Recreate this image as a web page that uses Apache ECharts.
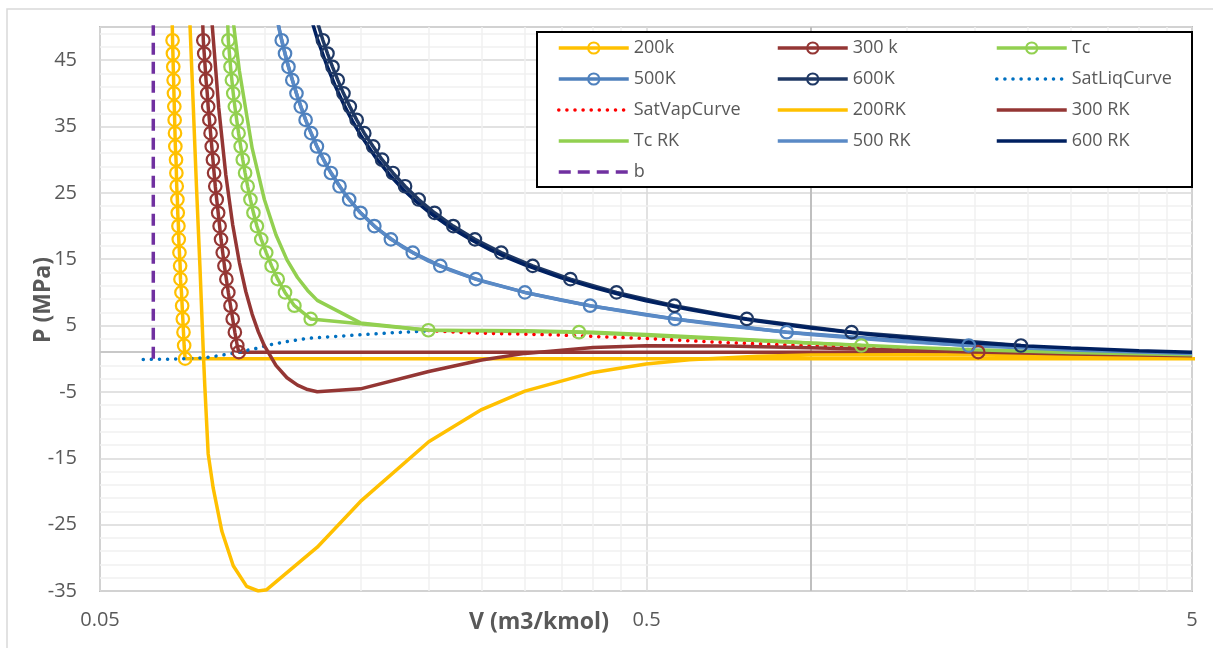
<!DOCTYPE html>
<html>
<head>
<meta charset="utf-8">
<script src="https://cdn.jsdelivr.net/npm/echarts@6.0.0/dist/echarts.min.js"></script>
<style>
  html, body { margin: 0; padding: 0; background: #ffffff; }
  #chart { width: 1213px; height: 648px; }
</style>
</head>
<body>
<div id="chart"></div>
<script>
// Propane P-V isotherms: measured data (markers) vs Redlich-Kwong curves.
// Each point is [V (m3/kmol), P (MPa)].

const iso200K = [
  [0.0676, 56], [0.0679, 48], [0.0680, 46], [0.0681, 44], [0.0682, 42], [0.0683, 40],
  [0.0684, 38], [0.0685, 36], [0.0686, 34], [0.0687, 32], [0.0689, 30], [0.0690, 28],
  [0.0691, 26], [0.0693, 24], [0.0694, 22], [0.0696, 20], [0.0697, 18], [0.0699, 16],
  [0.0701, 14], [0.0702, 12], [0.0705, 10], [0.0707, 8], [0.0709, 6], [0.0711, 4],
  [0.0713, 2], [0.0716, 0.02], [80, 0.02]
];

const iso300K = [
  [0.0767, 56], [0.0773, 48], [0.0776, 46], [0.0779, 44], [0.0782, 42], [0.0786, 40],
  [0.0789, 38], [0.0793, 36], [0.0797, 34], [0.0801, 32], [0.0805, 30], [0.0809, 28],
  [0.0813, 26], [0.0818, 24], [0.0823, 22], [0.0828, 20], [0.0833, 18], [0.0839, 16],
  [0.0845, 14], [0.0852, 12], [0.0859, 10], [0.0867, 8], [0.0875, 6], [0.0883, 4],
  [0.0892, 2], [0.0898, 1.0], [2.03, 1.0]
];

const isoTc = [
  [0.0852, 56], [0.0859, 48], [0.0863, 46], [0.0867, 44], [0.0872, 42], [0.0877, 40],
  [0.0883, 38], [0.0890, 36], [0.0897, 34], [0.0905, 32], [0.0913, 30], [0.0922, 28],
  [0.0932, 26], [0.0943, 24], [0.0955, 22], [0.0969, 20], [0.0987, 18], [0.1008, 16],
  [0.1031, 14], [0.1058, 12], [0.1091, 10], [0.1135, 8], [0.1216, 6], [0.1997, 4.3],
  [0.377, 4.0], [1.24, 2.0]
];

const iso500K = [
  [0.1026, 56], [0.1076, 48], [0.1091, 46], [0.1107, 44], [0.1125, 42], [0.1145, 40],
  [0.1166, 38], [0.1190, 36], [0.1218, 34], [0.1248, 32], [0.1284, 30], [0.1324, 28],
  [0.1373, 26], [0.1430, 24], [0.1500, 22], [0.1590, 20], [0.1705, 18], [0.1870, 16],
  [0.2100, 14], [0.2440, 12], [0.3000, 10], [0.3950, 8], [0.5650, 6], [0.9050, 4],
  [1.95, 2]
];

const iso600K = [
  [0.1197, 56], [0.1280, 48], [0.1305, 46], [0.1333, 44], [0.1363, 42], [0.1396, 40],
  [0.1434, 38], [0.1476, 36], [0.1524, 34], [0.1582, 32], [0.1643, 30], [0.1720, 28],
  [0.1810, 26], [0.1917, 24], [0.2050, 22], [0.2218, 20], [0.2430, 18], [0.2715, 16],
  [0.3100, 14], [0.3635, 12], [0.4415, 10], [0.5635, 8], [0.7650, 6], [1.19, 4],
  [2.43, 2]
];

const satLiq = [
  [0.0600, -0.1], [0.0650, -0.08], [0.0716, 0.0], [0.0778, 0.15], [0.0823, 0.45],
  [0.0875, 0.8], [0.0920, 1.2], [0.0960, 1.5], [0.1016, 2.05], [0.1100, 2.6],
  [0.1210, 3.1], [0.1430, 3.5], [0.1700, 3.9], [0.1900, 4.1], [0.2000, 4.25]
];

const satVap = [
  [0.2000, 4.25], [0.231, 3.95], [0.267, 3.8], [0.340, 3.6], [0.508, 3.03],
  [0.674, 2.5], [0.890, 2.1], [1.15, 1.8], [1.5, 1.4], [2.03, 1.0], [3.6, 0.6], [6.0, 0.35]
];

const rk200 = [
  [0.0727, 56], [0.0731, 50], [0.0741, 38], [0.0751, 26], [0.0762, 14], [0.0773, 1],
  [0.0778, -4.2], [0.0789, -14.3], [0.0806, -19.5], [0.0836, -26], [0.0877, -31.2],
  [0.0928, -34.3], [0.0975, -35.0], [0.1010, -34.8], [0.125, -28.4], [0.15, -21.5],
  [0.2, -12.5], [0.25, -7.66], [0.3, -4.88], [0.4, -2.06], [0.5, -0.8], [0.6, -0.16],
  [0.8, 0.38], [1, 0.56], [1.5, 0.6], [2, 0.55], [3, 0.43], [5, 0.29]
];

const rk300 = [
  [0.079, 58.7], [0.08, 51.7], [0.0825, 37.8], [0.085, 27.7], [0.0875, 20.2], [0.09, 14.5],
  [0.0925, 10.1], [0.095, 6.7], [0.0975, 4.06], [0.1, 1.97], [0.105, -1.0], [0.11, -2.86],
  [0.115, -3.98], [0.12, -4.64], [0.125, -4.97], [0.15, -4.53], [0.2, -1.93], [0.25, -0.19],
  [0.3, 0.81], [0.4, 1.69], [0.5, 1.95], [0.7, 1.94], [1, 1.67], [1.5, 1.29], [2, 1.03],
  [3, 0.73], [5, 0.46]
];

const rkTc = [
  [0.086, 57.6], [0.088, 49.8], [0.09, 43.4], [0.095, 31.7], [0.1, 24.0], [0.105, 18.7],
  [0.11, 14.9], [0.115, 12.25], [0.12, 10.3], [0.125, 8.8], [0.15, 5.41], [0.2, 4.29],
  [0.25, 4.25], [0.3, 4.22], [0.4, 3.98], [0.5, 3.65], [0.7, 3.04], [1, 2.39], [1.5, 1.73],
  [2, 1.36], [3, 0.94], [5, 0.59]
];

const rk500 = [
  [0.102, 57.1], [0.104, 53.5], [0.107, 48.8], [0.11, 44.8], [0.115, 39.45], [0.12, 35.2],
  [0.125, 31.9], [0.13, 29.1], [0.14, 25.0], [0.15, 22.0], [0.16, 19.77], [0.18, 16.72],
  [0.2, 14.7], [0.22, 13.28], [0.25, 11.7], [0.3, 10.0], [0.35, 8.81], [0.4, 7.9],
  [0.5, 6.6], [0.6, 5.68], [0.7, 4.99], [0.9, 4.02], [1, 3.67], [1.4, 2.71], [2, 1.95],
  [3, 1.33], [4, 1.01], [5, 0.81]
];

const rk600 = [
  [0.117, 56.4], [0.12, 53.0], [0.125, 48.25], [0.13, 44.31], [0.135, 41.02], [0.14, 38.22],
  [0.145, 35.82], [0.15, 33.74], [0.16, 30.31], [0.17, 27.61], [0.18, 25.44], [0.19, 23.64],
  [0.2, 22.12], [0.22, 19.7], [0.24, 17.86], [0.26, 16.38], [0.28, 15.18], [0.3, 14.16],
  [0.35, 12.19], [0.4, 10.76], [0.45, 9.64], [0.5, 8.75], [0.6, 7.41], [0.7, 6.43],
  [0.8, 5.68], [1, 4.62], [1.3, 3.61], [1.6, 2.96], [2, 2.39], [2.5, 1.93], [3, 1.62],
  [4, 1.22], [5, 0.98]
];

// co-volume b of the RK equation
const bLine = [[0.0626, 0], [0.0626, 60]];

// axis ticks
const xTickLabels = ['0.05', '0.5', '5'];
const xMinorTicks = [0.1, 0.15, 0.2, 0.25, 0.3, 0.35, 0.4, 0.45, 1, 1.5, 2, 2.5, 3, 3.5, 4, 4.5];
const yMinorTicks = [-33, -31, -29, -27, -23, -21, -19, -17, -13, -11, -9, -7, -3, -1, 1, 3,
  7, 9, 11, 13, 17, 19, 21, 23, 27, 29, 31, 33, 37, 39, 41, 43, 47, 49];

const FONT = 'Open Sans';
const TEXT = '#595959';

const C = {
  gold: '#FFC000', brown: '#943634', green: '#92D050', blue: '#4F81BD',
  slate: '#1F3864', navy: '#002060', satLiq: '#0070C0', satVap: '#FF0000',
  blueRK: '#5A8AC6', purple: '#7030A0'
};

function markerSeries(name, data, color) {
  return {
    name, type: 'line', data, symbol: 'circle', symbolSize: 12.5, showSymbol: true,
    lineStyle: { color, width: 3.5 },
    itemStyle: { color: 'rgba(255,255,255,0)', borderColor: color, borderWidth: 2.2 },
    clip: true, z: 2, animation: false
  };
}
function curveSeries(name, data, color, width, dash, cap) {
  return {
    name, type: 'line', data, symbol: 'none',
    lineStyle: { color, width, type: dash || 'solid', cap: cap || 'butt' },
    itemStyle: { color: 'rgba(255,255,255,0)' },
    clip: true, z: 2, animation: false
  };
}

// light gridlines and the axis crossing lines
const gridLines = [];
xMinorTicks.forEach(v => gridLines.push({ xAxis: v, lineStyle: { color: '#f0f0f0', width: 1.5, type: 'solid' } }));
yMinorTicks.forEach(v => gridLines.push({ yAxis: v, lineStyle: { color: '#f0f0f0', width: 1.5, type: 'solid' } }));
gridLines.push({ xAxis: 1, lineStyle: { color: '#bfbfbf', width: 2, type: 'solid' } });
gridLines.push({ yAxis: 1, lineStyle: { color: '#c8c8c8', width: 2, type: 'solid' } });

const series = [
  { type: 'line', data: [], silent: true, z: 1, animation: false,
    markLine: { silent: true, z: 1, symbol: 'none', animation: false, label: { show: false }, data: gridLines } },
  markerSeries('200k', iso200K, C.gold),
  markerSeries('300 k', iso300K, C.brown),
  markerSeries('Tc', isoTc, C.green),
  markerSeries('500K', iso500K, C.blue),
  markerSeries('600K', iso600K, C.slate),
  curveSeries('SatLiqCurve', satLiq, C.satLiq, 3.5, [0.1, 8], 'round'),
  curveSeries('SatVapCurve', satVap, C.satVap, 3.5, [0.1, 8], 'round'),
  curveSeries('200RK', rk200, C.gold, 3.5),
  curveSeries('300 RK', rk300, C.brown, 3.5),
  curveSeries('Tc RK', rkTc, C.green, 3.5),
  curveSeries('500 RK', rk500, C.blueRK, 3.5),
  curveSeries('600 RK', rk600, C.navy, 3.5),
  curveSeries('b', bLine, C.purple, 3.5, [12, 7])
];

function legendColumn(names, left) {
  return {
    data: names, orient: 'vertical', left, top: 38, padding: 0,
    itemWidth: 70, itemHeight: 14, itemGap: 11, selectedMode: false,
    lineStyle: { width: 3.5 },
    textStyle: { color: TEXT, fontSize: 18, fontFamily: FONT, lineHeight: 20 }
  };
}

const chart = echarts.init(document.getElementById('chart'), null, { renderer: 'canvas' });
chart.setOption({
  animation: false,
  backgroundColor: '#ffffff',
  grid: { left: 100, right: 21, top: 27, bottom: 57, show: true, borderColor: '#bfbfbf', borderWidth: 2, backgroundColor: 'rgba(0,0,0,0)' },
  xAxis: {
    type: 'log', logBase: 10, min: 0.05, max: 5, interval: 1,
    axisLine: { show: false }, axisTick: { show: false },
    axisLabel: {
      color: TEXT, fontSize: 20, fontFamily: FONT, margin: 19,
      formatter: v => xTickLabels.find(t => Math.abs(Math.log10(Number(t) / v)) < 0.02) || ''
    },
    splitLine: { show: true, lineStyle: { color: '#d9d9d9', width: 1.5 } }
  },
  yAxis: {
    type: 'value', min: -35, max: 50, interval: 10,
    axisLine: { show: false }, axisTick: { show: false },
    axisLabel: { color: TEXT, fontSize: 20, fontFamily: FONT, margin: 23, showMaxLabel: false },
    splitLine: { show: true, lineStyle: { color: '#d9d9d9', width: 1.5 } }
  },
  legend: [
    legendColumn(['200k', '500K', 'SatVapCurve', 'Tc RK', 'b'], 557),
    legendColumn(['300 k', '600K', '200RK', '500 RK'], 776),
    legendColumn(['Tc', 'SatLiqCurve', '300 RK', '600 RK'], 995)
  ],
  graphic: [
    { type: 'rect', z: -10, silent: true, shape: { x: 7, y: 9, width: 1230, height: 680 },
      style: { fill: 'none', stroke: '#d9d9d9', lineWidth: 1.5 } },
    { type: 'rect', z: 3, silent: true, shape: { x: 537, y: 32, width: 655, height: 155 },
      style: { fill: '#ffffff', stroke: '#000000', lineWidth: 2 } },
    { type: 'text', z: 5, silent: true, x: 539, y: 622,
      style: { text: 'V (m3/kmol)', fill: TEXT, font: 'bold 23px "Open Sans"', textAlign: 'center', textVerticalAlign: 'middle' } },
    { type: 'text', z: 5, silent: true, x: 43, y: 300, rotation: Math.PI / 2,
      style: { text: 'P (MPa)', fill: TEXT, font: 'bold 23px "Open Sans"', textAlign: 'center', textVerticalAlign: 'middle' } }
  ],
  series
});
</script>
</body>
</html>
